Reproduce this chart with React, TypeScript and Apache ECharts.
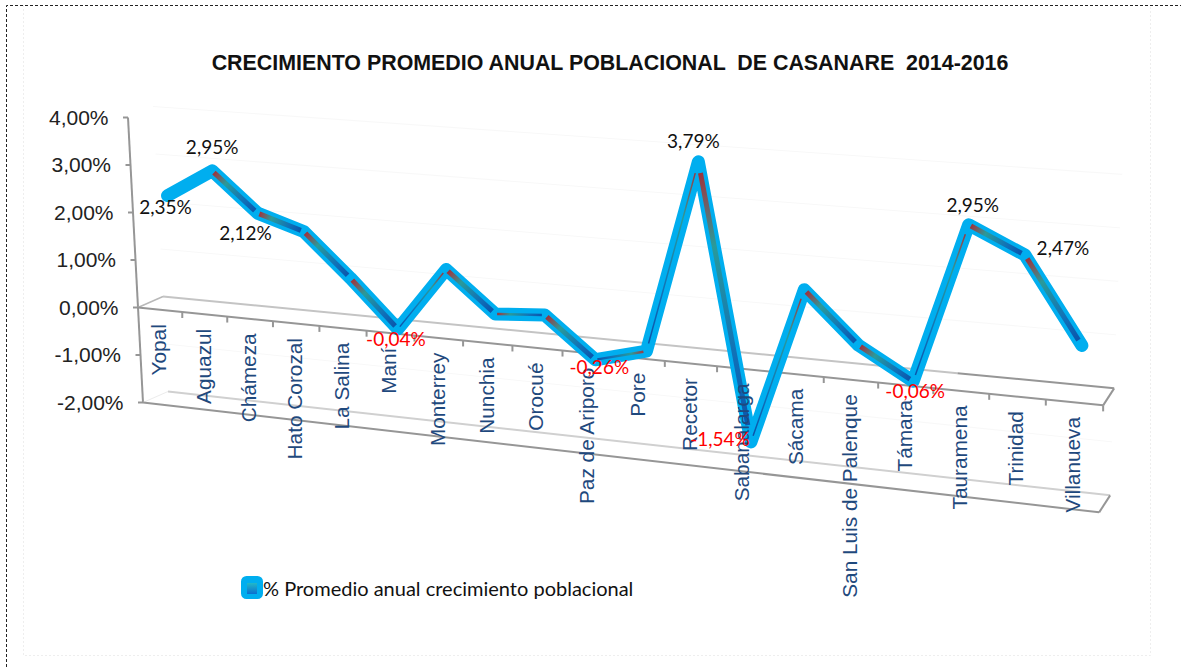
import React, { useEffect, useRef } from "react";
import * as echarts from "echarts";

const categories = ["Yopal","Aguazul","Chámeza","Hato Corozal","La Salina","Maní","Monterrey","Nunchia","Orocué","Paz de Ariporo","Pore","Recetor","Sabanalarga","Sácama","San Luis de Palenque","Támara","Tauramena","Trinidad","Villanueva"];
const values = [2.35,2.95,2.12,1.81,0.92,-0.04,1.27,0.46,0.53,-0.26,0.01,3.79,-1.54,1.48,0.52,-0.06,2.95,2.47,0.9];
const shownLabels: (string|null)[] = ["2,35%","2,95%","2,12%",null,null,"-0,04%",null,null,null,"-0,26%",null,"3,79%","-1,54%",null,null,"-0,06%","2,95%","2,47%",null];
const labelOffsets: Record<number, number[]> = {0:[-2,11],1:[0,-24],2:[-12,19],5:[-2,10],9:[4,7],11:[-5,-21],12:[-31,-3],15:[2,9],16:[4,-20],17:[38,-8]};
const tickValues = [4,3,2,1,0,-1,-2];
const tickLabels = ["4,00%","3,00%","2,00%","1,00%","0,00%","-1,00%","-2,00%"];
const seriesName = "% Promedio anual crecimiento poblacional";
const title = "CRECIMIENTO PROMEDIO ANUAL POBLACIONAL  DE CASANARE  2014-2016";

const N = categories.length;
const BAND = 60, UNIT = 100, Y0 = 400; // hidden data-space scale: grid px → (t, v)
const GRAY = "#969696";
const baseX = (t: number) => 138 + 43.9 * t + 0.363 * t * t;
const toTV = (c: number[]) => [c[0] / BAND, (Y0 - c[1]) / UNIT];
// front plane of the 3-D box
const front = (t: number, v: number) => {
  const x = baseX(t), k = t / N;
  return [x + (-2.5 + 4.5 * k) * v, 307.5 + 0.1014 * (x - 138) - (47.5 + 6 * k) * v];
};
const back = (t: number, v: number) => {
  const p = front(t, v), k = t / N;
  return [p[0] + 25 - 14 * k, p[1] - 11 - 6 * k];
};
// plane in which the ribbon sits
const mid = (t: number, v: number) => {
  const x = baseX(t) + 7.5;
  return [x, 302.5 + 0.099 * (x - 150) - (46 + 9 * t / N) * v];
};
const seg = (a: number[], b: number[], stroke: any, lineWidth: number, z2 = 0) => ({
  type: "line", z2, shape: { x1: a[0], y1: a[1], x2: b[0], y2: b[1] }, style: { stroke, lineWidth, lineCap: "butt" },
});
const txt = (s: string, x: number, y: number, font: string, fill: string, align: string, rotation = 0) => ({
  type: "text", x, y, rotation,
  style: { text: s, font, fill, align, textAlign: align, verticalAlign: "middle", textVerticalAlign: "middle" },
});

export default function App() {
  const ref = useRef<HTMLDivElement>(null);
  useEffect(() => {
    document.body.style.margin = "0";
    const chart = echarts.init(ref.current!, undefined, { renderer: "svg" });
    const renderFrame = (_: any, api: any) => {
      const P = (t: number, v: number) => { const c = toTV(api.coord([t, v])); return front(c[0], c[1]); };
      const B = (t: number, v: number) => { const c = toTV(api.coord([t, v])); return back(c[0], c[1]); };
      const ch: any[] = [];
      // faint back-wall lines
      tickValues.forEach((v) => { if (v !== 0 && v !== -2) ch.push(seg(B(0, v), B(N, v), "#f8f8f8", 1)); });
      ch.push(seg(P(0, 4), P(0, -2), GRAY, 2));
      tickValues.forEach((v) => { const p = P(0, v); ch.push(seg([p[0] - 5, p[1]], p, GRAY, 2)); });
      ch.push(seg(B(0, 0), B(16.2, 0), "#c4c4c4", 2));
      ch.push(seg(B(16.2, 0), B(N, 0), GRAY, 2));
      ch.push(seg(P(0, 0), B(0, 0), "#b8b8b8", 1.5));
      ch.push(seg(P(N, 0), B(N, 0), GRAY, 2));
      ch.push(seg(P(0, 0), P(N, 0), GRAY, 2));
      for (let t = 1; t <= N; t++) { const p = P(t, 0); ch.push(seg(p, [p[0], p[1] + 6], GRAY, 2)); }
      ch.push(seg(B(0, -2), B(N, -2), "#d0d0d0", 2));
      ch.push(seg(P(0, -2), B(0, -2), "#ececec", 1));
      ch.push(seg(P(0, -2), P(N, -2), GRAY, 2));
      ch.push(seg(P(N, -2), B(N, -2), GRAY, 2));
      return { type: "group", children: ch };
    };
    const renderLine = (p: any, api: any) => {
      if (p.dataIndex !== 0) return null;
      const pts = values.map((v, i) => { const c = toTV(api.coord([i + 0.5, v])); return mid(c[0], c[1]); });
      const ch: any[] = [{ type: "polyline", shape: { points: pts }, style: { stroke: "#00aeef", lineWidth: 13, fill: null, lineJoin: "round", lineCap: "round" } }];
      for (let i = 1; i < N - 1; i++) {
        const a = pts[i], b = pts[i + 1];
        const dy = b[1] - a[1];
        const w = dy > 15 ? 5 : Math.abs(dy) <= 15 ? 2.5 : 1.5;
        const hi = a[1] < b[1] ? a : b, lo = a[1] < b[1] ? b : a;
        const grad = new echarts.graphic.LinearGradient(hi[0], hi[1], lo[0], lo[1], [
          { offset: 0, color: "#a8252f" }, { offset: 0.1, color: "#8a4a50" }, { offset: 0.3, color: "#2a9a9a" }, { offset: 0.7, color: "#1070b8" }, { offset: 1, color: "#0a50a8" },
        ], true);
        const s = [a[0] + (b[0] - a[0]) * 0.04, a[1] + dy * 0.04];
        const e = [a[0] + (b[0] - a[0]) * 0.94, a[1] + dy * 0.94];
        ch.push(seg(s, e, grad, w));
      }
      return { type: "group", children: ch };
    };
    const renderText = (p: any, api: any) => {
      if (p.dataIndex !== 0) return null;
      const ch: any[] = [];
      const catFont = '20.8px "Liberation Sans", Arial, sans-serif';
      categories.forEach((name, i) => {
        const c = toTV(api.coord([i + 0.5, 0]));
        const f = front(c[0], 0);
        ch.push(txt(name, f[0] - 1.5, f[1] + 14.5, catFont, "#1f497d", "right", Math.PI / 2));
      });
      tickValues.forEach((v, i) => {
        const c = toTV(api.coord([0, v]));
        const f = front(c[0], c[1]);
        ch.push(txt(tickLabels[i], f[0] - 19.5, f[1] - 0.5, '21px "Liberation Sans", Arial, sans-serif', "#222222", "right"));
      });
      shownLabels.forEach((s, i) => {
        if (!s) return;
        const c = toTV(api.coord([i + 0.5, values[i]]));
        const m = mid(c[0], c[1]);
        const o = labelOffsets[i];
        ch.push(txt(s, m[0] + o[0], m[1] + o[1], '19px Lato, sans-serif', values[i] < 0 ? "#ff0000" : "#111111", "center"));
      });
      return { type: "group", children: ch };
    };
    chart.setOption({
      animation: false,
      backgroundColor: "#ffffff",
      title: { text: title, left: 605, top: 47, textAlign: "center", textStyle: { fontFamily: '"Liberation Sans", Arial, sans-serif', fontSize: 21.4, fontWeight: "bold", color: "#111111" } },
      legend: {
        left: 241, top: 576, padding: 0, itemWidth: 22, itemHeight: 23, icon: "roundRect", data: [seriesName],
        textStyle: { fontFamily: "Lato, sans-serif", fontSize: 20, color: "#111111", padding: [0, 0, 4, -5] },
      },
      grid: { left: 0, top: 0, width: BAND * N, height: UNIT * 6, containLabel: false },
      xAxis: { type: "value", min: 0, max: N, interval: 1, show: false },
      yAxis: { type: "value", min: -2, max: 4, interval: 1, show: false },
      graphic: [
        { type: "polyline", silent: true, shape: { points: [[6.5, 667], [6.5, 5.5], [1181, 5.5]] }, style: { stroke: "#222222", lineWidth: 1, lineDash: [3, 2], fill: null } },
        { type: "polyline", silent: true, shape: { points: [[23.5, 5], [23.5, 655.5], [1150.5, 655.5], [1150.5, 5]] }, style: { stroke: "#eeeeee", lineWidth: 1, lineDash: [2, 2], fill: null } },
        { type: "rect", silent: true, z: 20, shape: { x: 247, y: 583, width: 10, height: 11 }, style: { fill: new echarts.graphic.LinearGradient(0, 0, 0, 1, [{ offset: 0, color: "#22b8c8" }, { offset: 1, color: "#0a70d0" }]) } },
      ],
      series: [
        { type: "custom", name: "frame", z: 1, silent: true, coordinateSystem: "cartesian2d", data: [[0, 0]], clip: false, renderItem: renderFrame },
        { type: "custom", name: seriesName, z: 2, silent: true, coordinateSystem: "cartesian2d", clip: false, itemStyle: { color: "#00aeef" }, data: values.map((v, i) => [i + 0.5, v]), renderItem: renderLine },
        { type: "custom", name: "labels", z: 3, silent: true, coordinateSystem: "cartesian2d", clip: false, data: [[0, 0]], renderItem: renderText },
      ],
    });
    return () => chart.dispose();
  }, []);
  return <div ref={ref} style={{ position: "absolute", left: 0, top: 0, width: 1181, height: 667 }} />;
}
